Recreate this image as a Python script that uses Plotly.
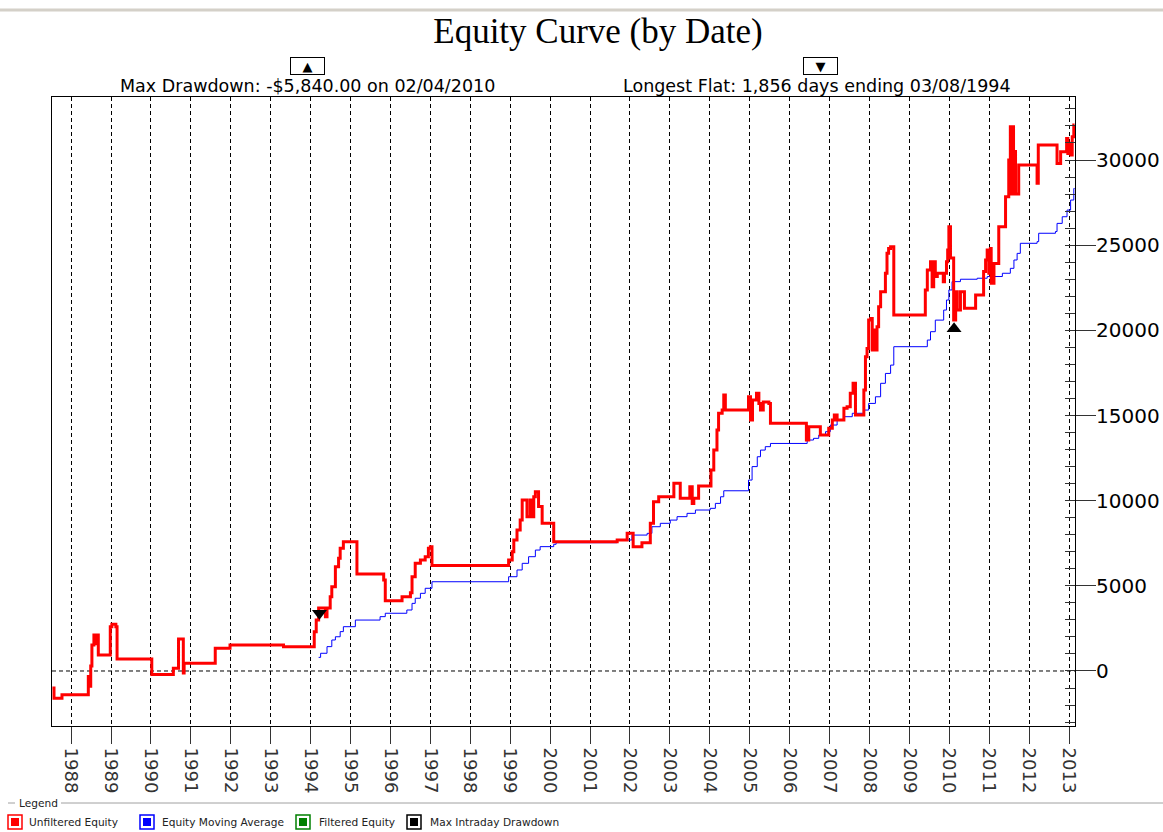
import plotly.graph_objects as go

# ---------------- data (decimal year, equity $) ----------------
eq_dates = [1987.53, 1987.57, 1987.77, 1988.43, 1988.46, 1988.49, 1988.52, 1988.57, 1988.60, 1988.62,
            1988.68, 1988.98, 1989.02, 1989.12, 1989.15, 1990.02, 1990.56, 1990.69, 1990.81, 1990.83,
            1991.61, 1991.98, 1993.32, 1994.09, 1994.14, 1994.20, 1994.37, 1994.41, 1994.49, 1994.53,
            1994.62, 1994.70, 1994.74, 1994.82, 1995.16, 1995.83, 1995.87, 1996.29, 1996.50, 1996.54,
            1996.62, 1996.75, 1996.87, 1996.95, 1997.00, 1997.04, 1998.96, 1999.05, 1999.09, 1999.17,
            1999.25, 1999.30, 1999.42, 1999.50, 1999.55, 1999.59, 1999.63, 1999.71, 1999.80, 2000.09,
            2001.68, 2001.93, 2002.08, 2002.30, 2002.51, 2002.59, 2002.72, 2003.10, 2003.26, 2003.50,
            2003.56, 2003.60, 2003.72, 2004.03, 2004.10, 2004.18, 2004.22, 2004.31, 2004.35, 2004.39,
            2004.97, 2005.02, 2005.07, 2005.17, 2005.23, 2005.27, 2005.34, 2005.48, 2005.52, 2006.42,
            2006.48, 2006.77, 2006.98, 2007.07, 2007.12, 2007.19, 2007.36, 2007.44, 2007.52, 2007.59,
            2007.65, 2007.86, 2007.90, 2007.94, 2007.98, 2008.03, 2008.07, 2008.11, 2008.15, 2008.19,
            2008.23, 2008.28, 2008.40, 2008.44, 2008.48, 2008.53, 2008.61, 2009.40, 2009.45, 2009.53,
            2009.57, 2009.61, 2009.65, 2009.70, 2009.85, 2009.88, 2009.93, 2009.96, 2009.99, 2010.03,
            2010.11, 2010.16, 2010.20, 2010.28, 2010.38, 2010.66, 2010.86, 2010.91, 2010.95, 2010.99,
            2011.03, 2011.05, 2011.12, 2011.24, 2011.41, 2011.49, 2011.53, 2011.56, 2011.58, 2011.61,
            2011.63, 2011.66, 2011.74, 2012.20, 2012.23, 2012.70, 2012.79, 2012.94, 2012.97, 2013.02,
            2013.05, 2013.08, 2013.12, 2013.14]
eq_values = [-1000, -1600, -1400, -330, -900, 300, 1530, 2110, 1600, 2110,
             940, 2600, 2750, 2600, 700, -200, 160, 1880, -120, 450,
             1330, 1530, 1430, 2300, 3000, 3700, 3190, 3700, 4360, 4950,
             6120, 6615, 7200, 7590, 5700, 5340, 4130, 4360, 4600, 5535,
             6320, 6515, 6710, 7200, 7300, 6200, 6515, 7000, 7690, 8280,
             8860, 10040, 9060, 10040, 9060, 10230, 10525, 9650, 8670, 7590,
             7690, 8080, 7300, 7530, 8670, 9940, 10230, 11020, 10140, 10820,
             9840, 10140, 10860, 11800, 12970, 14150, 15130, 15320, 16200, 15320,
             16100, 14730, 15910, 16300, 15710, 15320, 15800, 15710, 14540, 13560,
             14340, 13850, 14245, 14730, 15030, 14730, 15420, 15510, 16300, 16890,
             15030, 16490, 18450, 18940, 20600, 20700, 18840, 20020, 18840, 20210,
             21385, 22270, 23350, 24520, 24810, 24910, 20900, 22370, 23540, 24030,
             22560, 24030, 23160, 23350, 22850, 23350, 24030, 24715, 26080, 24240,
             20600, 22270, 21190, 22270, 21290, 22070, 23450, 24130, 24715, 23350,
             24810, 22760, 23930, 26080, 27840, 30000, 31950, 28000, 31950, 28000,
             30500, 28000, 29710, 28630, 30880, 29800, 30480, 31270, 30390, 30980,
             30290, 31370, 32050, 32050]

ma_dates = [1994.20, 1994.25, 1994.41, 1994.53, 1994.62, 1994.74, 1994.82, 1995.12, 1995.74, 1995.87,
            1996.41, 1996.54, 1996.62, 1996.75, 1996.87, 1997.04, 1998.96, 1999.17, 1999.30, 1999.46,
            1999.63, 1999.75, 2000.09, 2000.15, 2001.68, 2002.05, 2002.43, 2002.55, 2002.76, 2003.01,
            2003.18, 2003.43, 2003.64, 2004.01, 2004.14, 2004.27, 2004.35, 2004.97, 2005.06, 2005.19,
            2005.27, 2005.39, 2005.52, 2006.44, 2006.60, 2006.73, 2006.90, 2007.02, 2007.19, 2007.36,
            2007.57, 2007.86, 2007.98, 2008.15, 2008.28, 2008.40, 2008.53, 2008.61, 2009.45, 2009.53,
            2009.65, 2009.86, 2009.93, 2009.99, 2010.07, 2010.28, 2010.70, 2010.95, 2011.33, 2011.53,
            2011.62, 2011.70, 2011.78, 2012.20, 2012.24, 2012.66, 2012.70, 2012.83, 2012.95, 2013.04,
            2013.12, 2013.14]
ma_values = [800, 1040, 1430, 1820, 2010, 2310, 2600, 2990, 3190, 3390,
             3580, 3970, 4270, 4560, 4855, 5240, 5535, 5930, 6320, 6710,
             7100, 7300, 7440, 7530, 7690, 7980, 8080, 8470, 8670, 8860,
             9060, 9255, 9450, 9550, 9840, 10230, 10580, 11210, 12000, 12580,
             12970, 13170, 13360, 13560, 13660, 13850, 14050, 14440, 14730, 14930,
             15130, 15320, 15710, 16100, 16890, 17470, 17960, 19040, 19430, 19920,
             20600, 21190, 21780, 22370, 22860, 23000, 23060, 23160, 23350, 23640,
             24130, 24520, 25110, 25210, 25700, 25800, 26280, 26670, 27060, 27650,
             28330, 28330]

flat_end_date = [1994.22]
flat_end_value = [3390]
max_dd_date = [2010.12]
max_dd_value = [20100]

year_ticks = list(range(1988, 2014))
year_labels = [str(y) for y in year_ticks]
value_ticks = [0, 5000, 10000, 15000, 20000, 25000, 30000]
value_labels = [str(v) for v in value_ticks]

title_text = "Equity Curve (by Date)"
dd_text = "Max Drawdown: -$5,840.00 on 02/04/2010"
flat_text = "Longest Flat: 1,856 days ending 03/08/1994"
legend_items = ["Unfiltered Equity", "Equity Moving Average", "Filtered Equity", "Max Intraday Drawdown"]
legend_colors = ["#ff0000", "#0000ff", "#008000", "#000000"]

# ---------------- layout geometry (screen pixels) ----------------
OFF = 0                      # page body margin removed via post_script
SW, SH = 1163, 832           # screen size
W, H = SW - OFF, SH - OFF    # figure size
L, R, T, B = 52, 1075, 97, 726   # plot area on screen


def px(x):
    return (x - L) / (R - L)


def py(y):
    return (B - y) / (B - T)


fig = go.Figure()
fig.add_trace(go.Scatter(x=ma_dates, y=ma_values, mode="lines",
                         line=dict(color="#0000ff", width=1, shape="hv"),
                         showlegend=False, hoverinfo="skip"))
fig.add_trace(go.Scatter(x=eq_dates, y=eq_values, mode="lines",
                         line=dict(color="#ff0000", width=3, shape="hv"),
                         showlegend=False, hoverinfo="skip"))
fig.add_trace(go.Scatter(x=flat_end_date, y=flat_end_value, mode="markers",
                         marker=dict(symbol="triangle-down", size=13, color="black"),
                         showlegend=False))
fig.add_trace(go.Scatter(x=max_dd_date, y=max_dd_value, mode="markers",
                         marker=dict(symbol="triangle-up", size=13, color="black"),
                         showlegend=False))
# helper trace so the inside-tick overlay axis is drawn
fig.add_trace(go.Scatter(x=[None], y=[None], yaxis="y2", showlegend=False, hoverinfo="skip"))

yrange = [-3230, 33700]
xrange_ = [1987.52, 2013.15]
dash = "4px,3px"

fig.update_layout(
    width=W, height=H, autosize=False,
    margin=dict(l=L - OFF, r=W - (R - OFF), t=T - OFF, b=H - (B - OFF), pad=0, autoexpand=False),
    paper_bgcolor="white", plot_bgcolor="white",
    title=dict(text=title_text, x=(598 - OFF) / W, xanchor="center",
               y=1 - (31 - OFF) / H, yanchor="middle", yref="container",
               font=dict(family="Liberation Serif", size=35, color="black")),
    xaxis=dict(range=xrange_, tickmode="array", tickvals=year_ticks, ticktext=year_labels,
               tickangle=90, ticks="outside", ticklen=17, tickcolor="#333", tickwidth=1,
               tickfont=dict(family="DejaVu Sans", size=18, color="#333"),
               showgrid=True, gridcolor="black", gridwidth=1, griddash=dash, automargin=False,
               showline=True, linecolor="black", linewidth=1, mirror=True, zeroline=False),
    yaxis=dict(range=yrange, side="right", tickmode="array", tickvals=value_ticks,
               ticktext=value_labels, automargin=False,
               ticks="outside", ticklen=20, tickcolor="#333", tickwidth=1,
               ticklabelstandoff=-4,
               tickfont=dict(family="DejaVu Sans", size=20, color="black"),
               showgrid=False, zeroline=False,
               showline=True, linecolor="black", linewidth=1, mirror=True),
    yaxis2=dict(range=yrange, overlaying="y", side="right", tickmode="linear", tick0=0, dtick=1000,
                ticks="inside", ticklen=10, tickcolor="#333", showticklabels=False, automargin=False,
                showgrid=False, zeroline=False, showline=False),
)

# dashed zero reference line
fig.add_shape(type="line", xref="paper", yref="y", x0=0, x1=1, y0=0, y1=0,
              line=dict(color="black", width=1, dash=dash), layer="below")

ann = []
# marker boxes and subtitles
for cx, sym, tx, txt in [(307, "▲", 307, dd_text), (820, "▼", 817, flat_text)]:
    ann.append(dict(x=px(cx), y=py(66), xref="paper", yref="paper", text=sym, showarrow=False,
                    font=dict(family="DejaVu Sans", size=13, color="black"),
                    bordercolor="black", borderwidth=1, borderpad=0, bgcolor="white",
                    width=33, height=16, xanchor="center", yanchor="middle"))
    ann.append(dict(x=px(tx), y=py(86), xref="paper", yref="paper", text=txt, showarrow=False,
                    font=dict(family="DejaVu Sans", size=17.5, color="black"),
                    xanchor="center", yanchor="middle"))

# top window-chrome line
fig.add_shape(type="line", xref="paper", yref="paper", x0=px(0), x1=px(SW), y0=py(10), y1=py(10),
              line=dict(color="#d4d0c8", width=3))

# legend group box
fig.add_shape(type="line", xref="paper", yref="paper", x0=px(8), x1=px(15), y0=py(803), y1=py(803),
              line=dict(color="#a0a0a0", width=1))
fig.add_shape(type="line", xref="paper", yref="paper", x0=px(61), x1=px(SW), y0=py(803), y1=py(803),
              line=dict(color="#a0a0a0", width=1))
ann.append(dict(x=px(17), y=py(803), xref="paper", yref="paper", text="Legend", showarrow=False,
                font=dict(family="DejaVu Sans", size=10.6, color="#222"), xanchor="left", yanchor="middle"))

sq_centers = [15, 147, 303, 414]
txt_starts = [27, 160, 317, 428]
ly = 822
for name, col, cx, tx in zip(legend_items, legend_colors, sq_centers, txt_starts):
    fig.add_shape(type="rect", xref="paper", yref="paper",
                  x0=px(cx - 7), x1=px(cx + 7), y0=py(ly + 7), y1=py(ly - 7),
                  line=dict(color=col, width=1.5), fillcolor="white")
    fig.add_shape(type="rect", xref="paper", yref="paper",
                  x0=px(cx - 4), x1=px(cx + 4), y0=py(ly + 4), y1=py(ly - 4),
                  line=dict(width=0), fillcolor=col)
    ann.append(dict(x=px(tx), y=py(ly), xref="paper", yref="paper", text=name, showarrow=False,
                    font=dict(family="DejaVu Sans", size=10.6, color="#222"),
                    xanchor="left", yanchor="middle"))

fig.update_layout(annotations=ann)
fig.write_html("out.html", config={"displayModeBar": False},
               post_script="document.body.style.margin='0px';document.body.style.overflow='hidden';")
